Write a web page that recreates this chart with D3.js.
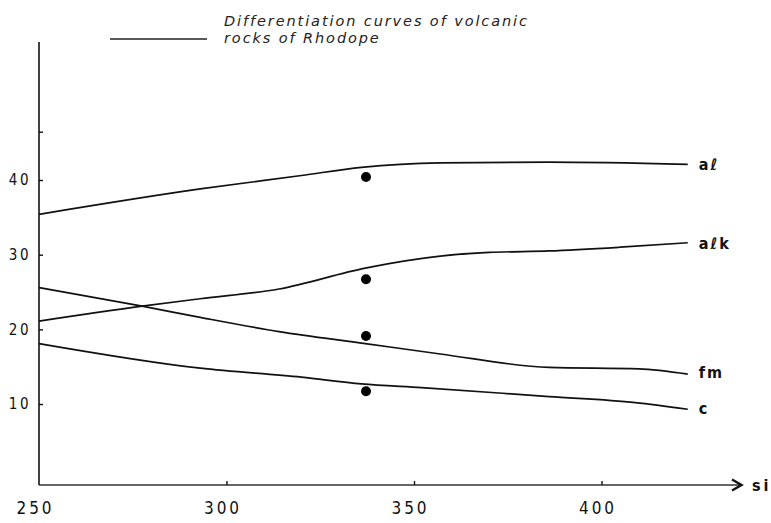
<!DOCTYPE html>
<html>
<head>
<meta charset="utf-8">
<script src="https://d3js.org/d3.v7.min.js"></script>
<style>
  body { margin: 0; background: #fff; }
  svg { display: block; }
  .tick-label { font-family: "DejaVu Sans Condensed", "DejaVu Sans", sans-serif; fill: #111; }
  .curve-label { font-family: "DejaVu Sans Condensed", "DejaVu Sans", sans-serif; font-weight: bold; fill: #111; }
  .title { font-family: "DejaVu Sans", sans-serif; font-style: italic; font-weight: 200; fill: #222; }
</style>
</head>
<body>
<svg id="chart" width="771" height="523"></svg>
<script>
// Data read from the plate (si on x, values on y)
const curveNames = ['aℓ', 'aℓk', 'fm', 'c'];
const alSi   = [250, 293, 320, 336, 357, 386, 423];
const alVal  = [35.4, 38.8, 40.6, 41.7, 42.3, 42.4, 42.1];
const alkSi  = [250, 277.5, 293, 314, 337, 357, 370, 386, 405, 423];
const alkVal = [21.1, 23.1, 24.1, 25.4, 28.2, 29.8, 30.3, 30.5, 31.0, 31.6];
const fmSi   = [250, 277.5, 293, 314, 337, 357, 386, 410, 423];
const fmVal  = [25.6, 23.1, 21.6, 19.7, 18.1, 16.7, 14.9, 14.7, 14.0];
const cSi    = [250, 293, 320, 336, 352, 386, 409, 423];
const cVal   = [18.1, 14.8, 13.6, 12.7, 12.2, 11.0, 10.2, 9.3];

// the four analysed points (filled dots)
const dotSi = 337.2;
const dotVal = [40.4, 26.7, 19.1, 11.7];

const xTicks = [250, 300, 350, 400];
const yTicks = [10, 20, 30, 40];
const yMinorTicks = [46.4];
const titleLines = ['Differentiation curves of volcanic', 'rocks of Rhodope'];

const svg = d3.select('#chart');

const xScale = d3.scaleLinear().domain([250, 400]).range([39, 601.5]);
const yScale = d3.scaleLinear().domain([0, 40]).range([478.7, 180]);

const axisY = 485;
const g = svg.append('g');

// y axis
g.append('line')
  .attr('x1', xScale(250)).attr('x2', xScale(250))
  .attr('y1', 42).attr('y2', axisY)
  .attr('stroke', '#111').attr('stroke-width', 1.6);

const yAxis = g.append('g')
  .attr('transform', `translate(${xScale(250)},0)`)
  .call(d3.axisLeft(yScale).tickValues(yTicks).tickSize(-4).tickPadding(8).tickFormat(d3.format('d')));
yAxis.select('.domain').remove();
yAxis.selectAll('line').attr('stroke', '#111').attr('stroke-width', 1.4);
yAxis.selectAll('text').attr('class', 'tick-label').attr('font-size', 15).attr('letter-spacing', 2.5);

// stray unlabeled tick near the top of the y axis
g.selectAll('.minor-tick')
  .data(yMinorTicks)
  .join('line')
    .attr('class', 'minor-tick')
    .attr('x1', xScale(250)).attr('x2', xScale(250) + 4)
    .attr('y1', d => yScale(d)).attr('y2', d => yScale(d))
    .attr('stroke', '#111').attr('stroke-width', 1.4);

// x axis
g.append('line')
  .attr('x1', xScale(250)).attr('x2', 741)
  .attr('y1', axisY).attr('y2', axisY)
  .attr('stroke', '#333').attr('stroke-width', 1.5);
g.append('path')
  .attr('d', `M732,479.5L741.5,${axisY}L732,490.5`)
  .attr('fill', 'none').attr('stroke', '#111').attr('stroke-width', 2.4);

const xAxis = g.append('g')
  .attr('transform', `translate(0,${axisY})`)
  .call(d3.axisBottom(xScale).tickValues(xTicks).tickSize(-4).tickPadding(17).tickFormat(d3.format('d')));
xAxis.select('.domain').remove();
xAxis.selectAll('line').attr('stroke', '#111').attr('stroke-width', 1.4)
  .attr('display', d => d === 250 ? 'none' : null);
xAxis.selectAll('text').attr('class', 'tick-label').attr('font-size', 17).attr('letter-spacing', 3)
  .attr('dx', -4);

g.append('text').attr('class', 'curve-label')
  .attr('x', 752).attr('y', axisY + 6)
  .attr('font-size', 16).attr('letter-spacing', 3)
  .text('si');

// curves
const series = [
  { name: curveNames[0], si: alSi, val: alVal, dy: 6 },
  { name: curveNames[1], si: alkSi, val: alkVal, dy: 6 },
  { name: curveNames[2], si: fmSi, val: fmVal, dy: 4 },
  { name: curveNames[3], si: cSi, val: cVal, dy: 5 }
];

const line = d3.line()
  .x(d => xScale(d[0]))
  .y(d => yScale(d[1]))
  .curve(d3.curveMonotoneX);

series.forEach(s => {
  const pts = s.si.map((x, i) => [x, s.val[i]]);
  g.append('path')
    .attr('d', line(pts))
    .attr('fill', 'none')
    .attr('stroke', '#111')
    .attr('stroke-width', 1.7);
  const last = pts[pts.length - 1];
  g.append('text').attr('class', 'curve-label')
    .attr('x', xScale(last[0]) + 11)
    .attr('y', yScale(last[1]) + s.dy)
    .attr('font-size', 16).attr('letter-spacing', 2)
    .text(s.name);
});

// dots
g.selectAll('.dot')
  .data(dotVal)
  .join('circle')
    .attr('class', 'dot')
    .attr('cx', xScale(dotSi))
    .attr('cy', d => yScale(d))
    .attr('r', 5)
    .attr('fill', '#000');

// legend / title
g.append('line')
  .attr('x1', 110).attr('x2', 207)
  .attr('y1', 39).attr('y2', 39)
  .attr('stroke', '#222').attr('stroke-width', 1.3);

g.selectAll('.title')
  .data(titleLines)
  .join('text')
    .attr('class', 'title')
    .attr('x', 224)
    .attr('y', (d, i) => 26 + i * 17)
    .attr('font-size', 14.5)
    .attr('letter-spacing', 1.9)
    .text(d => d);
</script>
</body>
</html>
